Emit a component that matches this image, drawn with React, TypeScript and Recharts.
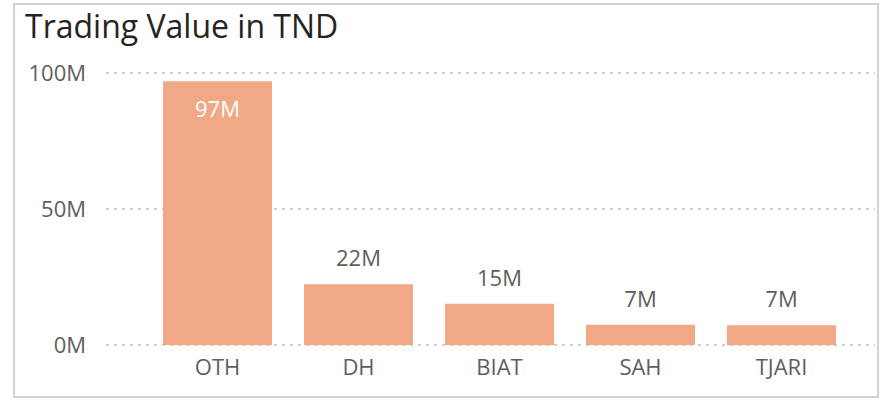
import React from "react";
import { BarChart, Bar, XAxis, YAxis, CartesianGrid, LabelList } from "recharts";

const categories = ["OTH", "DH", "BIAT", "SAH", "TJARI"];
const values = [97, 22.3, 15.2, 7.4, 7.3]; // millions TND
const yTicks = [0, 50, 100];

const data = categories.map((c, i) => ({ name: c, value: values[i] }));

const FONT = "'Open Sans', 'Noto Sans', sans-serif";

const fmt = (v: number) => `${Math.round(v)}M`;

const DataLabel = (props: any) => {
  const { x, y, width, height, value } = props;
  const inside = height > 80;
  return (
    <text
      x={x + width / 2}
      y={inside ? y + 27 : y - 27}
      textAnchor="middle"
      dominantBaseline="central"
      fill={inside ? "#FFFFFF" : "#605E5C"}
      fontSize={22}
      fontFamily={FONT}
    >
      {fmt(value)}
    </text>
  );
};

export default function App() {
  return (
    <div style={{ position: "absolute", left: 0, top: 0, width: 882, height: 401, background: "#fff" }}>
      <div
        style={{
          position: "absolute",
          left: 13,
          top: 3,
          width: 866,
          height: 395,
          border: "2px solid #D2D2D2",
          boxSizing: "border-box",
        }}
      />
      <div
        style={{
          position: "absolute",
          left: 25,
          top: 3,
          fontFamily: FONT,
          fontSize: 32,
          fontWeight: 500,
          color: "#252423",
          lineHeight: "46px",
          whiteSpace: "nowrap",
        }}
      >
        Trading Value in TND
      </div>
      <div style={{ position: "absolute", left: 0, top: 0 }}>
        <BarChart
          width={882}
          height={401}
          data={data}
          margin={{ top: 73, right: 7, bottom: 0, left: 0 }}
          barCategoryGap={16}
        >
          <CartesianGrid
            vertical={false}
            stroke="#BEBEBE"
            strokeDasharray="3 5"
            strokeWidth={1.3}
          />
          <XAxis
            dataKey="name"
            axisLine={false}
            tickLine={false}
            tickSize={0}
            tickMargin={14}
            height={56}
            padding={{ left: 41, right: 23 }}
            tick={{ fill: "#605E5C", fontSize: 22, fontFamily: FONT }}
            interval={0}
          />
          <YAxis
            domain={[0, 100]}
            ticks={yTicks}
            tickFormatter={(v: number) => `${v}M`}
            axisLine={false}
            tickLine={false}
            tickSize={0}
            tickMargin={20}
            width={106}
            tick={{ fill: "#605E5C", fontSize: 22, fontFamily: FONT }}
          />
          <Bar dataKey="value" fill="#F0A886" isAnimationActive={false}>
            <LabelList dataKey="value" content={DataLabel} />
          </Bar>
        </BarChart>
      </div>
    </div>
  );
}
